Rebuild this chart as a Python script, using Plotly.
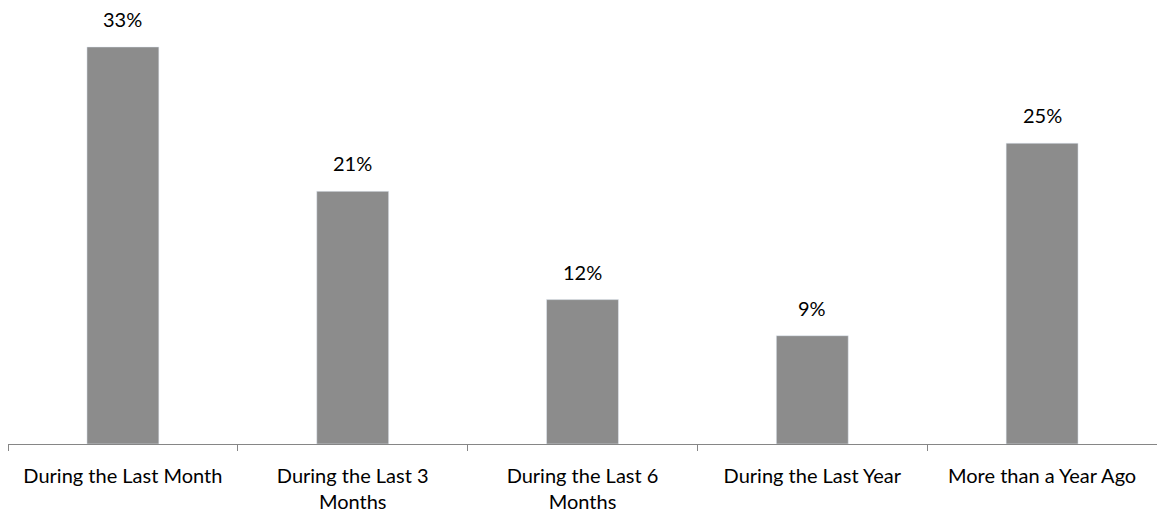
import plotly.graph_objects as go

categories = ["During the Last Month", "During the Last 3<br>Months", "During the Last 6<br>Months",
              "During the Last Year", "More than a Year Ago"]
values = [33, 21, 12, 9, 25]
labels = ["33%", "21%", "12%", "9%", "25%"]

FONT = "Lato"
FS = 20

fig = go.Figure()
fig.add_trace(go.Bar(x=categories, y=values, marker_color="#8C8C8C", width=0.313))

for c, v, t in zip(categories, values, labels):
    fig.add_annotation(x=c, y=v, text=t, showarrow=False, yanchor="bottom", yshift=14,
                       font=dict(family=FONT, size=FS, color="#000000"))

fig.update_layout(
    width=1157, height=514,
    margin=dict(l=8, r=0, t=10, b=70),
    plot_bgcolor="white", paper_bgcolor="white",
    showlegend=False,
    font=dict(family=FONT, size=FS, color="#000000"),
    xaxis=dict(type="category", showline=True, linecolor="#868686", linewidth=1,
               ticks="outside", tickson="boundaries", ticklen=6, tickcolor="#868686",
               ticklabelstandoff=14, automargin=False,
               showgrid=False, tickfont=dict(family=FONT, size=FS, color="#000000")),
    yaxis=dict(range=[0, 36.07], visible=False, showgrid=False, zeroline=False),
)

fig.write_html("out.html")
